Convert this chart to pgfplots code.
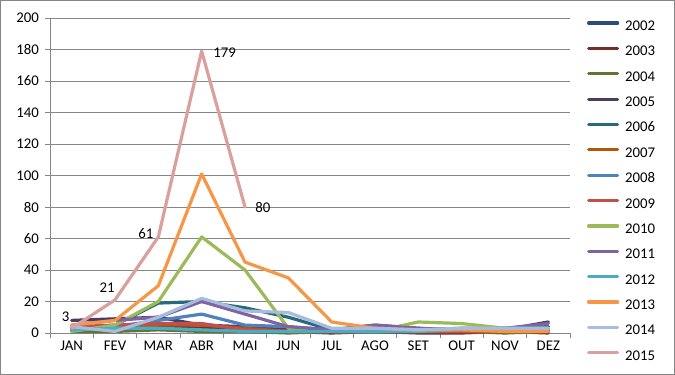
\documentclass[border=0pt]{standalone}
\usepackage{fontspec}
\setmainfont{Carlito}
\usepackage{pgfplots}
\pgfplotsset{compat=1.18}
\definecolor{c2002}{HTML}{2C4D75}
\definecolor{c2003}{HTML}{772C2A}
\definecolor{c2004}{HTML}{5F7530}
\definecolor{c2005}{HTML}{4D3B62}
\definecolor{c2006}{HTML}{276A7C}
\definecolor{c2007}{HTML}{B65708}
\definecolor{c2008}{HTML}{4F81BD}
\definecolor{c2009}{HTML}{C0504D}
\definecolor{c2010}{HTML}{9BBB59}
\definecolor{c2011}{HTML}{8064A2}
\definecolor{c2012}{HTML}{4BACC6}
\definecolor{c2013}{HTML}{F79646}
\definecolor{c2014}{HTML}{A8BCDE}
\definecolor{c2015}{HTML}{D9A09E}
\definecolor{gridc}{HTML}{868686}
\tikzset{ser/.style={line width=3.2pt, line join=round, line cap=round}}
\begin{document}
\fontsize{14.8pt}{17pt}\selectfont
\begin{tikzpicture}
\useasboundingbox (0,0) rectangle (675pt,375pt);
\draw[gridc, line width=0.8pt] (0.4pt,0.4pt) rectangle (674.6pt,374.6pt);
\begin{axis}[
  at={(50pt,42pt)}, anchor=south west,
  scale only axis, width=520pt, height=315pt,
  xmin=-0.5, xmax=11.5, ymin=0, ymax=200,
  axis lines*=left,
  axis line style={gridc, line width=0.8pt},
  ytick={0,20,...,200},
  ymajorgrids, grid style={gridc, line width=0.8pt},
  xtick={-0.5,0.5,...,11.5}, xticklabels={},
  extra x ticks={0,1,...,11},
  extra x tick labels={JAN,FEV,MAR,ABR,MAI,JUN,JUL,AGO,SET,OUT,NOV,DEZ},
  extra x tick style={major tick length=0pt, grid=none},
  tick align=outside, major tick length=5pt,
  tick style={gridc, line width=0.8pt},
  /pgf/number format/assume math mode=true,
  tick label style={font=\fontsize{14.8pt}{17pt}\selectfont},
  yticklabel style={xshift=-1pt},
  xticklabel style={yshift=-3pt},
  legend style={draw=none, fill=none, at={(1.0327,0.992)}, anchor=north west,
    inner sep=0pt, outer sep=0pt, row sep=15.37pt, column sep=6pt,
    nodes={inner sep=0pt, text height=10pt, text depth=0pt},
    font=\fontsize{14.8pt}{17pt}\selectfont},
  legend cell align=left,
  legend image code/.code={\draw[#1, line width=3.2pt, line cap=round] (1pt,2.5pt) -- (30pt,2.5pt);},
  clip=false,
]
\addplot[c2002, ser] coordinates {(0,2)(1,3)(2,4)(3,3)(4,2)(5,1)(6,1)(7,1)(8,1)(9,1)(10,1)(11,1)};
\addplot[c2003, ser] coordinates {(0,1)(1,2)(2,3)(3,3)(4,1)(5,1)(6,0)(7,1)(8,0)(9,0)(10,1)(11,0)};
\addplot[c2004, ser] coordinates {(0,1)(1,1)(2,2)(3,1)(4,1)(5,0)(6,1)(7,1)(8,1)(9,1)(10,0)(11,1)};
\addplot[c2005, ser] coordinates {(0,8)(1,9)(2,10)(3,5)(4,4)(5,2)(6,2)(7,5)(8,3)(9,1)(10,2)(11,7)};
\addplot[c2006, ser] coordinates {(0,3)(1,5)(2,19)(3,20)(4,16)(5,10)(6,2)(7,3)(8,2)(9,3)(10,3)(11,4)};
\addplot[c2007, ser] coordinates {(0,2)(1,4)(2,5)(3,5)(4,3)(5,1)(6,1)(7,1)(8,1)(9,1)(10,1)(11,1)};
\addplot[c2008, ser] coordinates {(0,3)(1,4)(2,8)(3,12)(4,5)(5,4)(6,2)(7,2)(8,2)(9,2)(10,2)(11,2)};
\addplot[c2009, ser] coordinates {(0,4)(1,5)(2,6)(3,6)(4,2)(5,1)(6,1)(7,1)(8,1)(9,1)(10,1)(11,1)};
\addplot[c2010, ser] coordinates {(0,1)(1,5)(2,20)(3,61)(4,40)(5,3)(6,1)(7,1)(8,7)(9,6)(10,3)(11,3)};
\addplot[c2011, ser] coordinates {(0,5)(1,8)(2,10)(3,20)(4,12)(5,4)(6,2)(7,5)(8,3)(9,2)(10,3)(11,6)};
\addplot[c2012, ser] coordinates {(0,2)(1,3)(2,3)(3,2)(4,1)(5,1)(6,1)(7,1)(8,1)(9,2)(10,3)(11,3)};
\addplot[c2013, ser] coordinates {(0,5)(1,8)(2,30)(3,101)(4,45)(5,35)(6,7)(7,3)(8,2)(9,2)(10,1)(11,1)};
\addplot[c2014, ser] coordinates {(0,4)(1,1)(2,10)(3,22)(4,14)(5,13)(6,3)(7,3)(8,2)(9,3)(10,3)(11,3)};
\addplot[c2015, ser] coordinates {(0,3)(1,21)(2,61)(3,179)(4,80)};
\legend{2002,2003,2004,2005,2006,2007,2008,2009,2010,2011,2012,2013,2014,2015}
\node at (axis cs:-0.14,10.2) {3};
\node at (axis cs:0.82,28.6) {21};
\node at (axis cs:1.71,62.9) {61};
\node at (axis cs:3.53,178.1) {179};
\node at (axis cs:4.41,79.4) {80};
\end{axis}
\end{tikzpicture}
\end{document}
